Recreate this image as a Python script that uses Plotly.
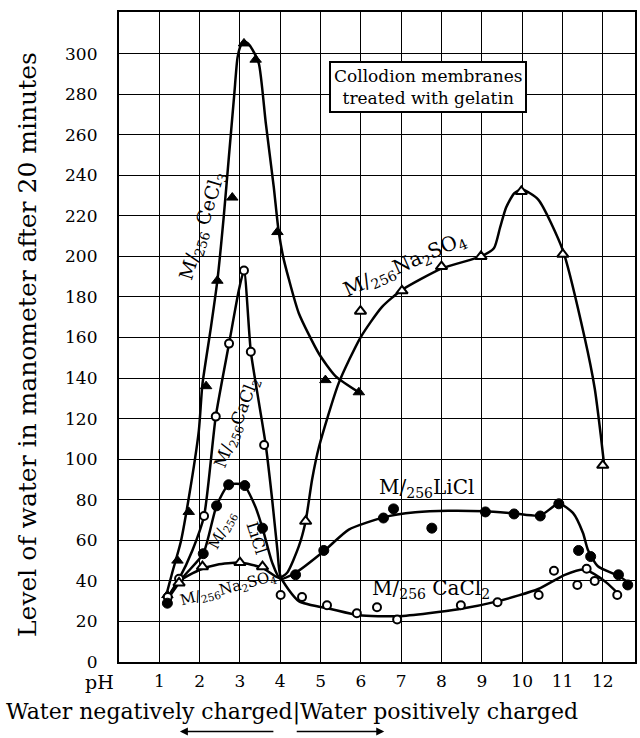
import plotly.graph_objects as go

# ---------------- data ----------------
ph_ticks = list(range(1, 13))
level_ticks = list(range(0, 301, 20))

# M/256 CeCl3  (filled triangles)
cecl3_ph = [1.20, 1.45, 1.73, 2.16, 2.44, 2.81, 3.10, 3.39, 3.93, 5.12, 5.95]
cecl3_lv = [33, 50, 74, 136, 188, 229, 305, 297, 212, 139, 133]
cecl3_curve_ph = [1.20, 1.32, 1.53, 1.74, 1.98, 2.07, 2.28, 2.44, 2.60, 2.73, 2.86, 2.94, 3.02, 3.10,
                  3.20, 3.31, 3.47, 3.64, 3.84, 3.95, 4.07, 4.21, 4.46, 4.96, 5.37, 5.95]
cecl3_curve_lv = [35, 44, 59, 82, 114, 137, 165, 188, 220, 250, 280, 298, 304, 306,
                  305, 302, 295, 266, 234, 214, 200, 189, 172, 152, 141, 133]

# M/256 CaCl2  (open circles)
cacl2_ph = [1.21, 1.49, 2.11, 2.40, 2.73, 3.10, 3.27, 3.60, 4.01, 4.54, 5.16, 5.90, 6.40, 6.90,
            8.48, 9.39, 10.41, 10.79, 11.37, 11.60, 11.80, 12.36]
cacl2_lv = [32, 41, 72, 121, 157, 193, 153, 107, 33, 32, 28, 24, 27, 21,
            28, 29.5, 33, 45, 38, 46, 40, 33]
cacl2_curve_ph = [1.21, 1.49, 1.82, 2.11, 2.40, 2.73, 2.98, 3.10, 3.27, 3.47, 3.64, 3.80, 3.93, 4.01,
                  4.46, 5.28, 5.95, 6.93, 8.42, 9.41, 10.40, 11.06, 11.55, 11.90, 12.10, 12.37]
cacl2_curve_lv = [32, 41, 55, 72, 121, 157, 184, 193, 153, 128, 107, 80, 55, 42,
                  30, 26, 23, 22.6, 26, 30, 36, 43, 45.6, 42, 39, 34]

# M/256 LiCl  (filled circles)
licl_ph = [1.20, 2.09, 2.42, 2.72, 3.12, 3.56, 4.38, 5.08, 6.56, 6.81, 7.76, 9.09, 9.80, 10.45,
           10.91, 11.40, 11.70, 12.39, 12.62]
licl_lv = [29, 53.4, 77, 87.4, 87, 66, 43, 55, 71, 75.5, 66, 74, 73, 72,
           78, 55, 52, 43, 38]
licl_curve_ph = [1.20, 1.61, 2.09, 2.42, 2.72, 3.09, 3.38, 3.56, 3.80, 4.00, 4.38, 5.08, 5.70, 6.56,
                 7.35, 8.17, 9.08, 9.82, 10.45, 10.91, 11.26, 11.51, 11.63, 11.88, 12.41, 12.70]
licl_curve_lv = [30.8, 42.3, 53.4, 77, 87.4, 87.4, 76.7, 66, 49, 41, 44, 54.6, 65.3, 71.3,
                 73.8, 74.6, 74.3, 73.2, 72.2, 78.1, 73.5, 63.6, 55.4, 47.2, 42.3, 38.2]

# M/256 Na2SO4  (open triangles)
na2so4_ph = [1.49, 2.07, 3.00, 3.56, 4.63, 5.99, 7.02, 8.00, 8.98, 9.98, 11.01, 12.00]
na2so4_lv = [39, 47, 49, 47, 69.4, 173, 183, 195, 200, 232, 201, 97]
na2so4_curve_ph = [1.20, 1.49, 2.02, 2.43, 3.00, 3.56, 3.97, 4.17, 4.46, 4.63, 4.79, 4.96, 5.45, 5.99,
                   6.52, 7.02, 8.00, 8.98, 9.30, 9.45, 9.60, 9.80, 10.00, 10.40, 11.01, 11.55, 11.80, 11.95, 12.03]
na2so4_curve_lv = [31, 39.8, 45.6, 48, 49, 46.4, 41.5, 44, 57, 69.4, 90, 106, 137.5, 160,
                   175, 183.5, 194, 200, 204, 214, 224, 231, 233, 228, 203, 160, 135, 112, 98]

# ---------------- figure ----------------
FONT = "DejaVu Serif"
fig = go.Figure()

line_style = dict(color="black", width=2.5, shape="spline", smoothing=0.6)
for cx, cy in [(cecl3_curve_ph, cecl3_curve_lv), (cacl2_curve_ph, cacl2_curve_lv),
               (licl_curve_ph, licl_curve_lv), (na2so4_curve_ph, na2so4_curve_lv)]:
    fig.add_trace(go.Scatter(x=cx, y=cy, mode="lines", line=line_style,
                             hoverinfo="skip", showlegend=False))

marker_sets = [
    (cecl3_ph, cecl3_lv, dict(symbol="triangle-up", size=10, color="black",
                              line=dict(color="black", width=1))),
    (cacl2_ph, cacl2_lv, dict(symbol="circle", size=8, color="white",
                              line=dict(color="black", width=2))),
    (licl_ph, licl_lv, dict(symbol="circle", size=10, color="black",
                            line=dict(color="black", width=1))),
    (na2so4_ph, na2so4_lv, dict(symbol="triangle-up", size=10, color="white",
                                line=dict(color="black", width=2))),
]
for mx, my, mk in marker_sets:
    fig.add_trace(go.Scatter(x=mx, y=my, mode="markers", marker=mk,
                             cliponaxis=False, showlegend=False))

axis_common = dict(showgrid=True, gridcolor="black", gridwidth=1.3,
                   showline=True, linecolor="black", linewidth=2.2, mirror=True,
                   zeroline=False, ticks="",
                   tickfont=dict(family=FONT, size=17, color="black"))

fig.update_xaxes(range=[0, 12.8], tickvals=ph_ticks, ticktext=[str(t) for t in ph_ticks],
                 ticklabelstandoff=2, **axis_common)
fig.update_yaxes(range=[0, 320.5], tickvals=level_ticks, ticktext=[str(t) for t in level_ticks],
                 ticklabelstandoff=16, **axis_common)

def lab(text, x, y, angle=0, size=16):
    fig.add_annotation(x=x, y=y, xref="x", yref="y", text=text, showarrow=False,
                       textangle=angle, font=dict(family=FONT, size=size, color="black"))

lab("M/<sub>256</sub> CeCl<sub>3</sub>", 2.09, 215, -73, 19)
lab("M/<sub>256</sub>CaCl<sub>2</sub>", 2.95, 118, -69, 17)
lab("M/<sub>256</sub>", 2.56, 65, -62, 15)
lab("LiCl", 3.42, 61, 72, 16)
lab("M/<sub>256</sub>Na<sub>2</sub>SO<sub>4</sub>", 2.71, 36, -15, 15)
lab("M/<sub>256</sub>Na<sub>2</sub>SO<sub>4</sub>", 7.07, 196, -24, 20)
lab("M/<sub>256</sub>LiCl", 7.63, 86, 0, 20)
lab("M/<sub>256</sub> CaCl<sub>2</sub>", 7.75, 36, 0, 20)

# box label
fig.add_annotation(x=0.599, y=0.885, xref="paper", yref="paper", xanchor="center", yanchor="middle",
                   text="Collodion membranes<br>treated with gelatin", showarrow=False,
                   font=dict(family=FONT, size=17, color="black"),
                   bgcolor="white", bordercolor="black", borderwidth=2, borderpad=3)

# axis title
fig.add_annotation(x=-0.176, y=0.488, xref="paper", yref="paper", xanchor="center", yanchor="middle",
                   text="Level of water in manometer after 20 minutes", showarrow=False,
                   textangle=-90, font=dict(family=FONT, size=25, color="black"))
# pH label
fig.add_annotation(x=-0.037, y=-0.03, xref="paper", yref="paper", xanchor="center", yanchor="middle",
                   text="pH", showarrow=False, font=dict(family=FONT, size=19, color="black"))
# bottom text
fig.add_annotation(x=-0.222, y=-0.077, xref="paper", yref="paper", xanchor="left", yanchor="middle",
                   text="Water negatively charged|Water positively charged",
                   showarrow=False, font=dict(family=FONT, size=22, color="black"))
# arrows
fig.add_annotation(x=0.118, y=-0.107, xref="paper", yref="paper", ax=95, ay=0,
                   text="", showarrow=True, arrowhead=2, arrowwidth=1.6, arrowcolor="black")
fig.add_annotation(x=0.514, y=-0.107, xref="paper", yref="paper", ax=-89, ay=0,
                   text="", showarrow=True, arrowhead=2, arrowwidth=1.6, arrowcolor="black")

fig.update_layout(width=640, height=738, margin=dict(l=119, r=3, t=12, b=76),
                  plot_bgcolor="white", paper_bgcolor="white", showlegend=False)

fig.write_html("out.html")
